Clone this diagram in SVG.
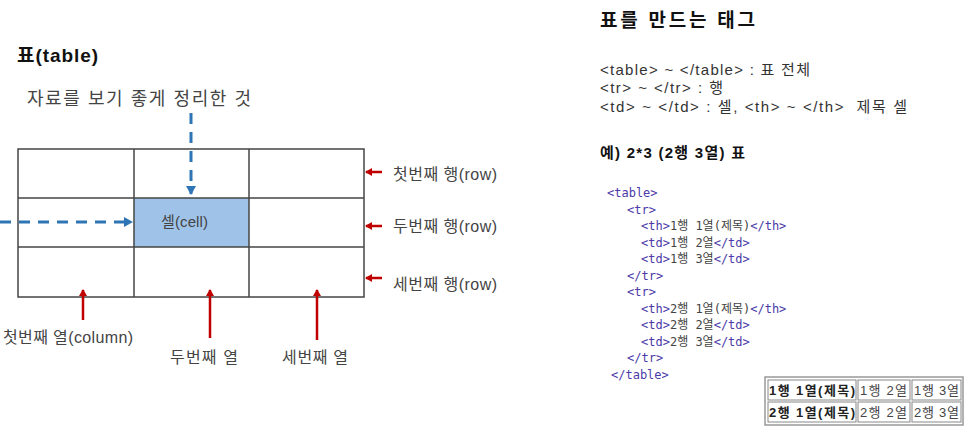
<svg xmlns="http://www.w3.org/2000/svg" width="969" height="433" viewBox="0 0 969 433">
<style>
text{font-family:"Liberation Sans","Noto Sans CJK KR",sans-serif;fill:#333}
.h{font-weight:bold;font-size:19px;fill:#111}
.lbl{font-size:16px;fill:#444}
.t{font-size:15px;fill:#333;white-space:pre}
.code{font-family:"DejaVu Sans Mono","Noto Sans CJK KR",monospace;font-size:12px;fill:#444}
.tag{fill:#4b3aa8}
.grid{fill:none;stroke:#444;stroke-width:1.5}
.red{stroke:#c00000;stroke-width:2.5;fill:none}
.blue{stroke:#2e75b6;stroke-width:3;fill:none;stroke-dasharray:11 8}
.ht{font-size:13px;fill:#444}
.hc{fill:#fff;stroke:#888;stroke-width:1}
</style>
<defs>
<marker id="ra" markerWidth="8" markerHeight="8" refX="6" refY="4" orient="auto" markerUnits="userSpaceOnUse">
<path d="M0,0 L7,4 L0,8 z" fill="#c00000"/>
</marker>
<marker id="ba" markerWidth="10" markerHeight="10" refX="8" refY="5" orient="auto" markerUnits="userSpaceOnUse">
<path d="M0,0 L9,5 L0,10 z" fill="#2e75b6"/>
</marker>
</defs>
<rect width="969" height="433" fill="#fff"/>

<g id="title"><text class="h" x="17" y="62" textLength="81" lengthAdjust="spacing">표(table)</text></g>
<g id="desc"><text class="lbl" x="27" y="105" style="font-size:18px" textLength="224" lengthAdjust="spacing">자료를 보기 좋게 정리한 것</text></g>

<g id="table-grid">
<rect x="134" y="198" width="115" height="49" fill="#9fc3e8"/>
<rect class="grid" x="18" y="149" width="346" height="148"/>
<line class="grid" x1="18" y1="198" x2="364" y2="198"/>
<line class="grid" x1="18" y1="247" x2="364" y2="247"/>
<line class="grid" x1="134" y1="149" x2="134" y2="297"/>
<line class="grid" x1="249" y1="149" x2="249" y2="297"/>
</g>
<g id="cell"><text class="lbl" x="161" y="227" style="font-size:15px" textLength="47" lengthAdjust="spacing">셀(cell)</text></g>

<g id="connectors">
<line class="blue" x1="191" y1="113" x2="191" y2="194" marker-end="url(#ba)"/>
<line class="blue" x1="0" y1="222" x2="132" y2="222" marker-end="url(#ba)"/>
<line class="red" x1="382" y1="172" x2="366" y2="172" marker-end="url(#ra)"/>
<line class="red" x1="382" y1="226" x2="366" y2="226" marker-end="url(#ra)"/>
<line class="red" x1="382" y1="278" x2="366" y2="278" marker-end="url(#ra)"/>
<line class="red" x1="83" y1="320" x2="83" y2="290" marker-end="url(#ra)"/>
<line class="red" x1="210" y1="338" x2="210" y2="290" marker-end="url(#ra)"/>
<line class="red" x1="317" y1="340" x2="317" y2="290" marker-end="url(#ra)"/>
</g>

<g id="row1"><text class="lbl" x="393" y="180" textLength="104" lengthAdjust="spacing">첫번째 행(row)</text></g>
<g id="row2"><text class="lbl" x="393" y="232" textLength="104" lengthAdjust="spacing">두번째 행(row)</text></g>
<g id="row3"><text class="lbl" x="393" y="290" textLength="104" lengthAdjust="spacing">세번째 행(row)</text></g>
<g id="col1"><text class="lbl" x="3" y="343" textLength="130" lengthAdjust="spacing">첫번째 열(column)</text></g>
<g id="col2"><text class="lbl" x="170" y="363" textLength="68" lengthAdjust="spacing">두번째 열</text></g>
<g id="col3"><text class="lbl" x="282" y="363" textLength="66" lengthAdjust="spacing">세번째 열</text></g>

<g id="tags-heading"><text class="h" x="600" y="27" textLength="155" lengthAdjust="spacing">표를 만드는 태그</text></g>
<g id="tags-list">
<text class="t" x="600" y="75" textLength="210" lengthAdjust="spacing">&lt;table&gt; ~ &lt;/table&gt; : 표 전체</text>
<text class="t" x="600" y="93" textLength="123" lengthAdjust="spacing">&lt;tr&gt; ~ &lt;/tr&gt; : 행</text>
<text class="t" x="600" y="112" textLength="307" lengthAdjust="spacing">&lt;td&gt; ~ &lt;/td&gt; : 셀, &lt;th&gt; ~ &lt;/th&gt;  제목 셀</text>
</g>
<g id="example-heading"><text class="t" x="600" y="158" style="font-weight:bold;fill:#111" textLength="145" lengthAdjust="spacing">예) 2*3 (2행 3열) 표</text></g>

<g id="code">
<text class="code" x="607" y="197"><tspan class="tag">&lt;table&gt;</tspan></text>
<text class="code" x="627" y="213.5"><tspan class="tag">&lt;tr&gt;</tspan></text>
<text class="code" x="641" y="230"><tspan class="tag">&lt;th&gt;</tspan>1행 1열(제목)<tspan class="tag">&lt;/th&gt;</tspan></text>
<text class="code" x="641" y="246.5"><tspan class="tag">&lt;td&gt;</tspan>1행 2열<tspan class="tag">&lt;/td&gt;</tspan></text>
<text class="code" x="641" y="263"><tspan class="tag">&lt;td&gt;</tspan>1행 3열<tspan class="tag">&lt;/td&gt;</tspan></text>
<text class="code" x="627" y="279.5"><tspan class="tag">&lt;/tr&gt;</tspan></text>
<text class="code" x="627" y="296"><tspan class="tag">&lt;tr&gt;</tspan></text>
<text class="code" x="641" y="312.5"><tspan class="tag">&lt;th&gt;</tspan>2행 1열(제목)<tspan class="tag">&lt;/th&gt;</tspan></text>
<text class="code" x="641" y="329"><tspan class="tag">&lt;td&gt;</tspan>2행 2열<tspan class="tag">&lt;/td&gt;</tspan></text>
<text class="code" x="641" y="345.5"><tspan class="tag">&lt;td&gt;</tspan>2행 3열<tspan class="tag">&lt;/td&gt;</tspan></text>
<text class="code" x="627" y="362"><tspan class="tag">&lt;/tr&gt;</tspan></text>
<text class="code" x="611" y="378.5"><tspan class="tag">&lt;/table&gt;</tspan></text>
</g>

<g id="result-table">
<rect x="765" y="377" width="198" height="48" fill="#fff" stroke="#999" stroke-width="1.5"/>
<rect class="hc" x="768" y="380" width="88" height="20"/>
<rect class="hc" x="858" y="380" width="52" height="20"/>
<rect class="hc" x="912" y="380" width="49" height="20"/>
<rect class="hc" x="768" y="402" width="88" height="20"/>
<rect class="hc" x="858" y="402" width="52" height="20"/>
<rect class="hc" x="912" y="402" width="49" height="20"/>
<text class="ht" x="769" y="395" style="font-weight:bold;fill:#222" textLength="86" lengthAdjust="spacing">1행 1열(제목)</text>
<text class="ht" x="860" y="395" textLength="47" lengthAdjust="spacing">1행 2열</text>
<text class="ht" x="914" y="395" textLength="45" lengthAdjust="spacing">1행 3열</text>
<text class="ht" x="769" y="417" style="font-weight:bold;fill:#222" textLength="86" lengthAdjust="spacing">2행 1열(제목)</text>
<text class="ht" x="860" y="417" textLength="47" lengthAdjust="spacing">2행 2열</text>
<text class="ht" x="914" y="417" textLength="45" lengthAdjust="spacing">2행 3열</text>
</g>
</svg>
